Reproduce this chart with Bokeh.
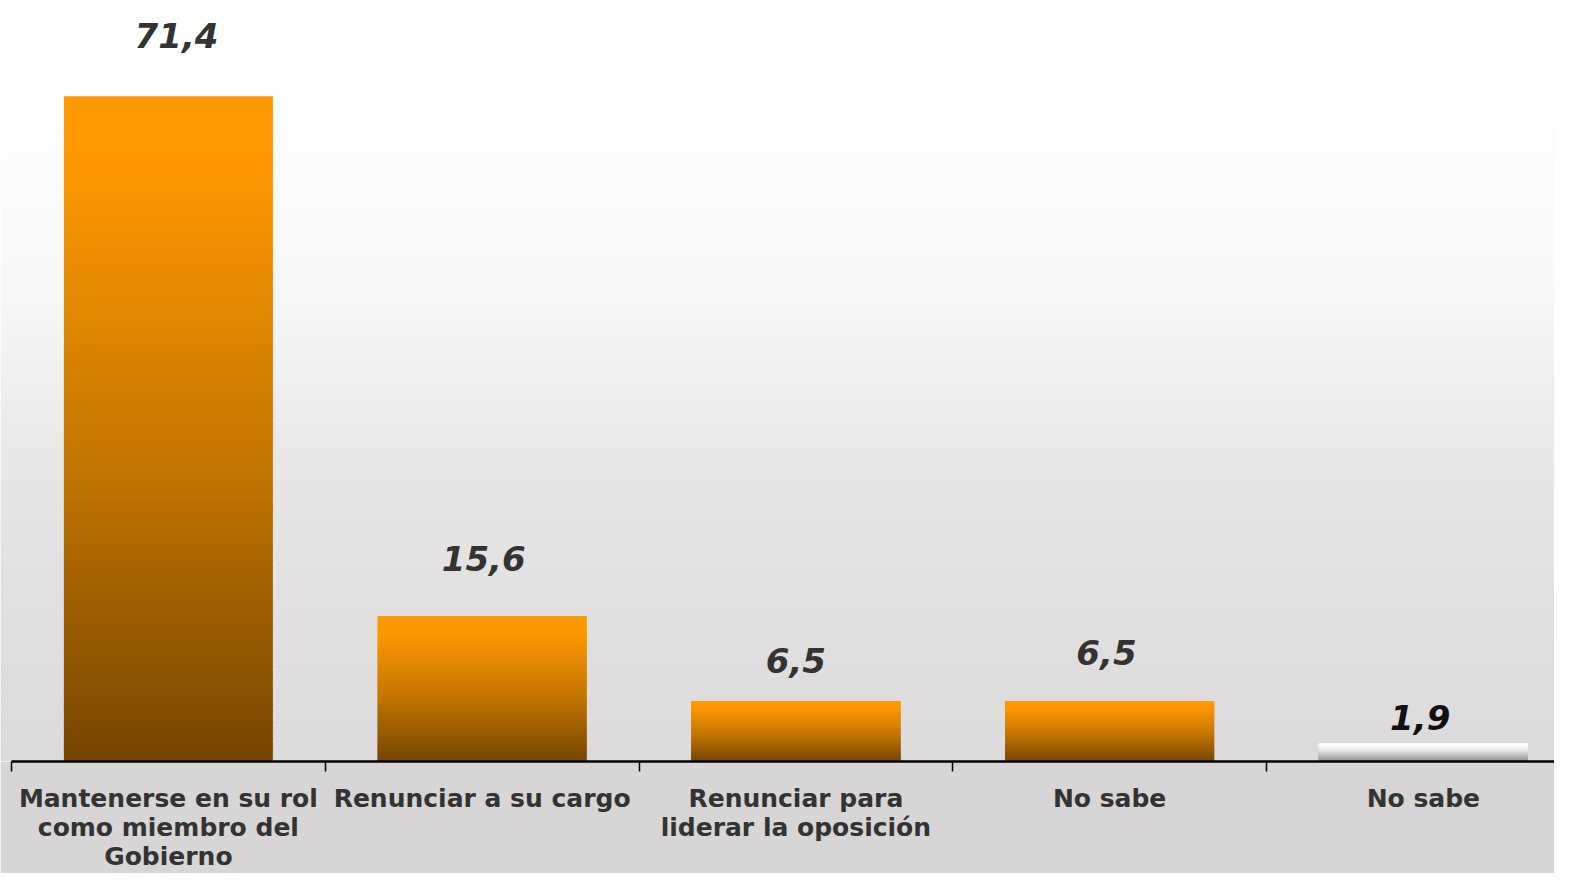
import numpy as np
from bokeh.plotting import figure
from bokeh.models import Range1d, FixedTicker
from bokeh.core.properties import value
from bokeh.embed import file_html
from bokeh.resources import INLINE

# ---- data ----
categories = [
    "Mantenerse en su rol\ncomo miembro del\nGobierno",
    "Renunciar a su cargo",
    "Renunciar para\nliderar la oposición",
    "No sabe",
    "No sabe",
]
values = [71.4, 15.6, 6.5, 6.5, 1.9]
value_labels = ["71,4", "15,6", "6,5", "6,5", "1,9"]
bar_kind = ["orange", "orange", "orange", "orange", "gray"]

# ---- styling ----
PX_PER_UNIT = 9.328
W, H = 1554, 873
FRAME_H = 762
CAT_PX = 313.75
AXIS_X0 = 11
y_top = FRAME_H / PX_PER_UNIT
x_start = -AXIS_X0 / CAT_PX
x_end = (W - AXIS_X0) / CAT_PX
BAR_W = 0.666

label_dy_px = [61, 58, 41, 49, 26]
label_dx = [0.026, 0.005, 0.0, -0.01, -0.01]
label_colors = ["#333333", "#333333", "#333333", "#333333", "#111111"]

grad_stops = {
    "orange": [(0.0, (255, 153, 0)), (0.12, (252, 151, 0)), (0.55, (196, 118, 0)), (1.0, (118, 69, 0))],
    "gray": [(0.0, (255, 255, 255)), (0.3, (238, 238, 238)), (1.0, (140, 140, 140))],
}
# background stops: (figure y px, rgb)
bg_stops = [(0, (255, 255, 255)), (90, (255, 255, 255)), (300, (247, 247, 247)),
            (450, (234, 231, 231)), (600, (226, 224, 224)), (762, (220, 218, 218))]


def interp(stops, t):
    for (t0, c0), (t1, c1) in zip(stops[:-1], stops[1:]):
        if t <= t1:
            f = 0 if t1 == t0 else (t - t0) / (t1 - t0)
            f = min(max(f, 0), 1)
            c = [round(a + (b - a) * f) for a, b in zip(c0, c1)]
            return "#%02x%02x%02x" % tuple(c)
    return "#%02x%02x%02x" % stops[-1][1]


p = figure(width=W, height=H, output_backend="svg", toolbar_location=None,
           x_range=Range1d(x_start, x_end), y_range=Range1d(0, y_top),
           y_axis_location=None, min_border_left=0, min_border_right=0,
           min_border_top=0, min_border_bottom=H - FRAME_H)
p.outline_line_color = None
p.grid.visible = False
p.background_fill_color = "#ffffff"
p.border_fill_color = "#d7d5d5"

# background gradient stripes (slightly overlapping to avoid seams)
M = 150
edges = np.linspace(0, y_top, M + 1)
eps = 1.5 / PX_PER_UNIT
bg_cols = []
for k in range(M):
    yc = (edges[k] + edges[k + 1]) / 2
    fig_y = FRAME_H - yc * PX_PER_UNIT
    bg_cols.append(interp(bg_stops, fig_y))
p.quad(left=x_start, right=x_end, bottom=edges[:-1], top=np.minimum(edges[1:] + eps, y_top),
       fill_color=bg_cols, line_color=None)

# bars with vertical gradient
N = 120
L, R, B, T, C = [], [], [], [], []
for i, (v, kind) in enumerate(zip(values, bar_kind)):
    xc = i + 0.5
    for k in range(N):
        frac_top = 1 - (k + 0.5) / N
        col = interp(grad_stops[kind], frac_top)
        L.append(xc - BAR_W / 2)
        R.append(xc + BAR_W / 2)
        B.append(v * k / N)
        T.append(min(v * (k + 1) / N + 1.5 / PX_PER_UNIT, v))
        C.append(col)
p.quad(left=L, right=R, bottom=B, top=T, fill_color=C, line_color=None)

# value labels
xs = [i + 0.5 + dx for i, dx in enumerate(label_dx)]
ys = [v + d / PX_PER_UNIT for v, d in zip(values, label_dy_px)]
p.text(x=xs, y=ys, text=value_labels, text_align="center", text_baseline="middle",
       text_font=value("DejaVu Sans"), text_font_style="bold italic",
       text_font_size="34px", text_color=label_colors)

# x axis
ax = p.xaxis[0]
ax.bounds = (0, len(categories))
ax.ticker = FixedTicker(ticks=[i + 0.5 for i in range(len(categories))],
                        minor_ticks=list(range(len(categories))))
ax.major_label_overrides = {i + 0.5: c for i, c in enumerate(categories)}
ax.major_tick_in = 0
ax.major_tick_out = 0
ax.minor_tick_in = 0
ax.minor_tick_out = 10
ax.minor_tick_line_color = "black"
ax.minor_tick_line_width = 1.5
ax.axis_line_color = "black"
ax.axis_line_width = 2.5
ax.major_label_standoff = 12
ax.major_label_text_font = "DejaVu Sans"
ax.major_label_text_font_style = "bold"
ax.major_label_text_font_size = "25px"
ax.major_label_text_color = "#333333"
ax.major_label_text_line_height = 1.0

open("out.html", "w").write(file_html(p, INLINE))
